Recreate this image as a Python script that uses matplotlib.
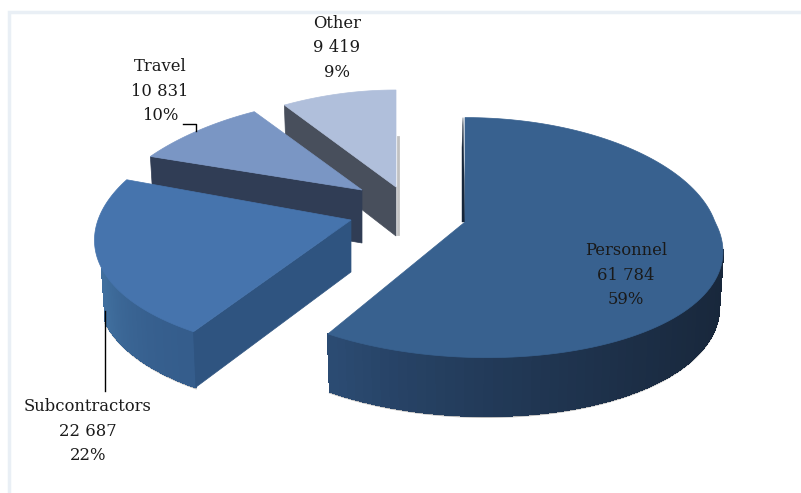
import numpy as np
import matplotlib
matplotlib.use('Agg')
import matplotlib.pyplot as plt
from matplotlib.patches import Polygon, Rectangle
from matplotlib.colors import to_rgb

categorias = ['Personnel', 'Subcontractors', 'Travel', 'Other']
valores = [61784, 22687, 10831, 9419]
colores_top = ['#38618f', '#4674ad', '#7a96c4', '#b0bfdb']
colores_corte = ['#16263a', '#2f5480', '#303d55', '#484f5c']
pared_izq = ['#2c4c74', '#41709f', '#303d55', '#484f5c']
pared_der = ['#18273b', '#355d8c', '#303d55', '#484f5c']

# apex of each slice on the page, its radius and how strong the perspective is
centros = [(465, 222), (351, 220), (362, 190), (396, 187)]
radios = [(250, 118), (253, 120), (247, 99), (256, 97)]
persp_x = [0.165, 0.165, 0.27, 0.27]
persp_y = [0.13, 0.11, 0.08, 0.0]
# Personnel leans to the right on its near side
sesgo = [22, 0, 0, 0]
altos = [54, 52, 53, 49]
# part of the outer wall that can be seen
visible = [(103, 270), (90, 247), (0, 0), (0, 0)]


def punto(i, ang):
    # ang in degrees, clockwise from 12 o'clock
    rx, ry = radios[i]
    x = np.sin(np.radians(ang))
    z = np.cos(np.radians(ang))
    px = centros[i][0] + rx * x / (1 + persp_x[i] * z) + sesgo[i] * max(-z, 0)
    return px, centros[i][1] - ry * z / (1 + persp_y[i] * z)


def abajo(i, ang):
    # same point on the lower rim, a little narrower
    x, y = punto(i, ang)
    h = altos[i] * (1 - 0.08 * np.cos(np.radians(ang)))
    return centros[i][0] + (x - centros[i][0]) * 0.985, y + h


def mezcla(c1, c2, t):
    a = np.array(to_rgb(c1))
    b = np.array(to_rgb(c2))
    return tuple(a + (b - a) * t)


def dibujar(ax, i, a0, a1, zo):
    cx, cy = centros[i]
    h = altos[i]

    v0 = max(a0, visible[i][0])
    v1 = min(a1, visible[i][1])
    if v1 > v0:
        angs = np.linspace(v0, v1, 60)
        for n in range(len(angs) - 1):
            t = (angs[n] - angs[0]) / (angs[-1] - angs[0])
            c = mezcla(pared_der[i], pared_izq[i], t ** 1.8)
            ax.add_patch(Polygon([punto(i, angs[n]), punto(i, angs[n + 1]), abajo(i, angs[n + 1]), abajo(i, angs[n])],
                                 closed=True, fc=c, ec=c, lw=1, antialiased=False, zorder=zo + 1))
        fondo = [abajo(i, a) for a in angs]
        ax.plot([p[0] for p in fondo], [p[1] + 1 for p in fondo], color='#777777', lw=1.5, alpha=0.5, zorder=zo)

    # cut wall of the first edge
    ax.add_patch(Polygon([punto(i, a0), (cx, cy), (cx, cy + h), abajo(i, a0)], closed=True,
                         fc=colores_corte[i], ec=colores_corte[i], lw=0.5, zorder=zo + 2))

    # top face
    angs = np.linspace(a0, a1, 120)
    pts = [(cx, cy)] + [punto(i, a) for a in angs]
    ax.add_patch(Polygon(pts, closed=True, fc=colores_top[i], ec=colores_top[i], lw=0.5, zorder=zo + 3))


total = sum(valores)
fig = plt.figure(figsize=(8.01, 4.93), dpi=100)
ax = fig.add_axes([0, 0, 1, 1])
ax.set_xlim(0, 801)
ax.set_ylim(493, 0)
ax.axis('off')

# light frame of the chart area
ax.add_patch(Rectangle((9, 12), 800, 490, fc='white', ec='#e9eff5', lw=2.5, zorder=0))

cortes = np.cumsum([0] + valores) / total * 360

# far slices first so the near ones cover them
for zo, i in enumerate([3, 2, 1, 0]):
    base = 1 + zo * 10
    if i == 3:
        # soft shadow at the straight side of Other
        ax.plot([398, 398], [137, 234], color='#999999', lw=2, alpha=0.6, zorder=base)
    if i == 0:
        far = punto(0, cortes[0])
        ax.add_patch(Polygon([(far[0] - 2, far[1]), centros[0], (centros[0][0] - 3, centros[0][1]), (far[0] - 3, far[1] + 30)],
                             closed=True, fc='#16263a', ec='#16263a', lw=0.3, zorder=base))
    dibujar(ax, i, cortes[i], cortes[i + 1], base)

# leader lines
ax.plot([183, 196, 196], [124, 124, 131], color='black', lw=1, zorder=50)
ax.plot([105, 105], [311, 391], color='black', lw=1, zorder=50)

pos_texto = [(626, 275), (88, 431), (160, 91), (337, 48)]
for i, nombre in enumerate(categorias):
    num = f'{valores[i]:,}'.replace(',', ' ')
    pct = f'{valores[i] / total * 100:.0f}%'
    ax.text(pos_texto[i][0], pos_texto[i][1], f'{nombre}\n{num}\n{pct}', ha='center', va='center',
            family='DejaVu Serif', fontsize=11.8, color='#1a1a1a', linespacing=1.55, zorder=60)

fig.savefig('out.png', dpi=100)
